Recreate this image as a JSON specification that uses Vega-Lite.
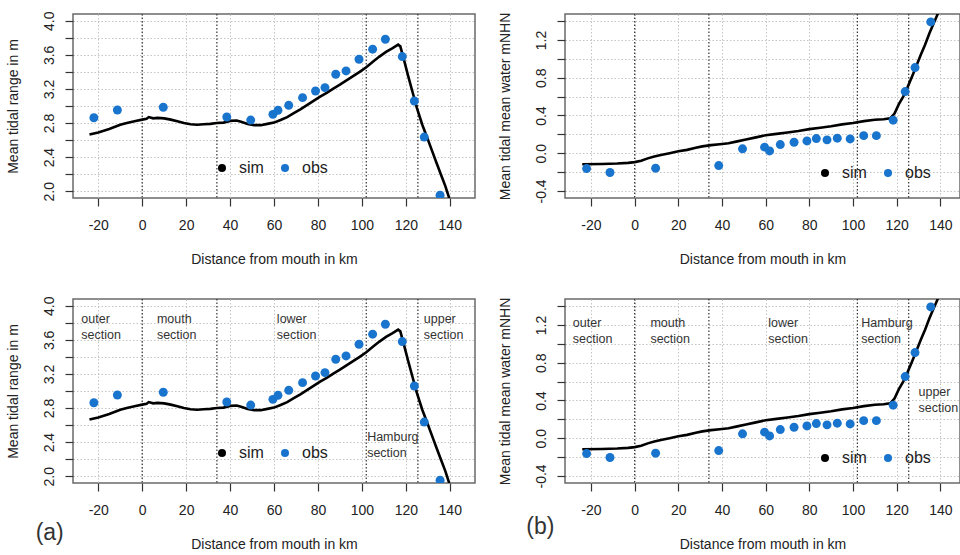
{
  "$schema": "https://vega.github.io/schema/vega-lite/v6.json",
  "padding": {"top": 10, "left": 5, "right": 0, "bottom": 0},
  "background": "white",
  "config": {
    "font": "Liberation Sans",
    "view": {"stroke": "#6a6a6a", "strokeWidth": 1.5},
    "axis": {
      "domain": false,
      "grid": true,
      "gridColor": "#c4c4c4",
      "gridDash": [1.5, 2],
      "gridWidth": 1,
      "ticks": true,
      "tickSize": 8,
      "tickColor": "#333333",
      "tickWidth": 1.2,
      "labelFontSize": 14,
      "labelColor": "#222222",
      "labelOverlap": false,
      "titleFontSize": 14,
      "titleFontWeight": "normal",
      "titleColor": "#222222",
      "labelPadding": 9
    },
    "axisX": {"labelPadding": 12},
    "legend": {
      "orient": "none",
      "direction": "horizontal",
      "title": null,
      "labelFontSize": 16,
      "labelColor": "#222222",
      "symbolType": "circle",
      "symbolSize": 65,
      "symbolStrokeWidth": 0,
      "labelOffset": 9,
      "columnPadding": 13,
      "padding": 0
    },
    "text": {"font": "Liberation Sans"}
  },
  "datasets": {
    "tide": [
      {"var": "range", "series": "sim", "km": -24, "value": 2.665},
      {"var": "range", "series": "sim", "km": -20, "value": 2.69},
      {"var": "range", "series": "sim", "km": -15, "value": 2.73},
      {"var": "range", "series": "sim", "km": -10, "value": 2.78},
      {"var": "range", "series": "sim", "km": -7, "value": 2.8},
      {"var": "range", "series": "sim", "km": -3, "value": 2.825},
      {"var": "range", "series": "sim", "km": 0, "value": 2.84},
      {"var": "range", "series": "sim", "km": 2, "value": 2.85},
      {"var": "range", "series": "sim", "km": 3, "value": 2.87},
      {"var": "range", "series": "sim", "km": 5, "value": 2.855},
      {"var": "range", "series": "sim", "km": 7, "value": 2.86},
      {"var": "range", "series": "sim", "km": 10, "value": 2.855},
      {"var": "range", "series": "sim", "km": 13, "value": 2.84},
      {"var": "range", "series": "sim", "km": 16, "value": 2.82},
      {"var": "range", "series": "sim", "km": 19, "value": 2.8},
      {"var": "range", "series": "sim", "km": 22, "value": 2.785},
      {"var": "range", "series": "sim", "km": 25, "value": 2.78},
      {"var": "range", "series": "sim", "km": 28, "value": 2.785},
      {"var": "range", "series": "sim", "km": 31, "value": 2.79},
      {"var": "range", "series": "sim", "km": 34, "value": 2.8},
      {"var": "range", "series": "sim", "km": 37, "value": 2.805},
      {"var": "range", "series": "sim", "km": 40, "value": 2.825},
      {"var": "range", "series": "sim", "km": 43, "value": 2.83},
      {"var": "range", "series": "sim", "km": 45, "value": 2.815},
      {"var": "range", "series": "sim", "km": 48, "value": 2.79},
      {"var": "range", "series": "sim", "km": 51, "value": 2.775},
      {"var": "range", "series": "sim", "km": 54, "value": 2.775},
      {"var": "range", "series": "sim", "km": 57, "value": 2.79},
      {"var": "range", "series": "sim", "km": 60, "value": 2.805},
      {"var": "range", "series": "sim", "km": 63, "value": 2.835},
      {"var": "range", "series": "sim", "km": 66, "value": 2.87},
      {"var": "range", "series": "sim", "km": 69, "value": 2.915},
      {"var": "range", "series": "sim", "km": 72, "value": 2.96},
      {"var": "range", "series": "sim", "km": 75, "value": 3.01},
      {"var": "range", "series": "sim", "km": 78, "value": 3.06},
      {"var": "range", "series": "sim", "km": 81, "value": 3.11},
      {"var": "range", "series": "sim", "km": 84, "value": 3.155},
      {"var": "range", "series": "sim", "km": 87, "value": 3.205},
      {"var": "range", "series": "sim", "km": 90, "value": 3.25},
      {"var": "range", "series": "sim", "km": 93, "value": 3.3},
      {"var": "range", "series": "sim", "km": 96, "value": 3.35},
      {"var": "range", "series": "sim", "km": 99, "value": 3.4},
      {"var": "range", "series": "sim", "km": 102, "value": 3.455},
      {"var": "range", "series": "sim", "km": 105, "value": 3.52},
      {"var": "range", "series": "sim", "km": 108, "value": 3.58},
      {"var": "range", "series": "sim", "km": 111, "value": 3.635},
      {"var": "range", "series": "sim", "km": 114, "value": 3.68},
      {"var": "range", "series": "sim", "km": 116.5, "value": 3.72},
      {"var": "range", "series": "sim", "km": 117.5, "value": 3.7},
      {"var": "range", "series": "sim", "km": 119, "value": 3.56},
      {"var": "range", "series": "sim", "km": 121, "value": 3.36},
      {"var": "range", "series": "sim", "km": 123, "value": 3.17},
      {"var": "range", "series": "sim", "km": 125, "value": 2.98},
      {"var": "range", "series": "sim", "km": 127.5, "value": 2.78},
      {"var": "range", "series": "sim", "km": 130, "value": 2.61},
      {"var": "range", "series": "sim", "km": 132, "value": 2.47},
      {"var": "range", "series": "sim", "km": 134, "value": 2.33},
      {"var": "range", "series": "sim", "km": 136.5, "value": 2.16},
      {"var": "range", "series": "sim", "km": 138, "value": 2.06},
      {"var": "range", "series": "sim", "km": 140, "value": 1.9},
      {"var": "range", "series": "obs", "km": -22, "value": 2.862},
      {"var": "range", "series": "obs", "km": -11.3, "value": 2.953},
      {"var": "range", "series": "obs", "km": 9.6, "value": 2.985},
      {"var": "range", "series": "obs", "km": 38.5, "value": 2.871},
      {"var": "range", "series": "obs", "km": 49.4, "value": 2.835},
      {"var": "range", "series": "obs", "km": 59.5, "value": 2.902},
      {"var": "range", "series": "obs", "km": 61.8, "value": 2.949},
      {"var": "range", "series": "obs", "km": 66.7, "value": 3.008},
      {"var": "range", "series": "obs", "km": 73, "value": 3.098},
      {"var": "range", "series": "obs", "km": 78.9, "value": 3.176},
      {"var": "range", "series": "obs", "km": 83.2, "value": 3.216},
      {"var": "range", "series": "obs", "km": 88.1, "value": 3.373},
      {"var": "range", "series": "obs", "km": 92.8, "value": 3.412},
      {"var": "range", "series": "obs", "km": 98.7, "value": 3.549},
      {"var": "range", "series": "obs", "km": 104.9, "value": 3.667},
      {"var": "range", "series": "obs", "km": 110.7, "value": 3.784},
      {"var": "range", "series": "obs", "km": 118.4, "value": 3.58},
      {"var": "range", "series": "obs", "km": 123.9, "value": 3.059},
      {"var": "range", "series": "obs", "km": 128.4, "value": 2.635},
      {"var": "range", "series": "obs", "km": 135.6, "value": 1.953},
      {"var": "mean", "series": "sim", "km": -24, "value": -0.118},
      {"var": "mean", "series": "sim", "km": -15, "value": -0.115},
      {"var": "mean", "series": "sim", "km": -8, "value": -0.11},
      {"var": "mean", "series": "sim", "km": -3, "value": -0.103},
      {"var": "mean", "series": "sim", "km": 0, "value": -0.095},
      {"var": "mean", "series": "sim", "km": 3, "value": -0.08},
      {"var": "mean", "series": "sim", "km": 6, "value": -0.055},
      {"var": "mean", "series": "sim", "km": 9, "value": -0.035},
      {"var": "mean", "series": "sim", "km": 12, "value": -0.02},
      {"var": "mean", "series": "sim", "km": 16, "value": 0.0},
      {"var": "mean", "series": "sim", "km": 20, "value": 0.02},
      {"var": "mean", "series": "sim", "km": 24, "value": 0.035},
      {"var": "mean", "series": "sim", "km": 28, "value": 0.058},
      {"var": "mean", "series": "sim", "km": 31, "value": 0.072},
      {"var": "mean", "series": "sim", "km": 35, "value": 0.085},
      {"var": "mean", "series": "sim", "km": 39, "value": 0.095},
      {"var": "mean", "series": "sim", "km": 43, "value": 0.105},
      {"var": "mean", "series": "sim", "km": 47, "value": 0.125},
      {"var": "mean", "series": "sim", "km": 51, "value": 0.145},
      {"var": "mean", "series": "sim", "km": 55, "value": 0.165},
      {"var": "mean", "series": "sim", "km": 60, "value": 0.19},
      {"var": "mean", "series": "sim", "km": 65, "value": 0.205},
      {"var": "mean", "series": "sim", "km": 70, "value": 0.22},
      {"var": "mean", "series": "sim", "km": 75, "value": 0.235},
      {"var": "mean", "series": "sim", "km": 80, "value": 0.255},
      {"var": "mean", "series": "sim", "km": 85, "value": 0.27},
      {"var": "mean", "series": "sim", "km": 90, "value": 0.285},
      {"var": "mean", "series": "sim", "km": 95, "value": 0.305},
      {"var": "mean", "series": "sim", "km": 100, "value": 0.32},
      {"var": "mean", "series": "sim", "km": 105, "value": 0.34},
      {"var": "mean", "series": "sim", "km": 110, "value": 0.355},
      {"var": "mean", "series": "sim", "km": 114, "value": 0.36},
      {"var": "mean", "series": "sim", "km": 117, "value": 0.37},
      {"var": "mean", "series": "sim", "km": 119, "value": 0.42},
      {"var": "mean", "series": "sim", "km": 121, "value": 0.52},
      {"var": "mean", "series": "sim", "km": 123, "value": 0.6},
      {"var": "mean", "series": "sim", "km": 125, "value": 0.7},
      {"var": "mean", "series": "sim", "km": 127, "value": 0.81},
      {"var": "mean", "series": "sim", "km": 129, "value": 0.925},
      {"var": "mean", "series": "sim", "km": 131, "value": 1.04},
      {"var": "mean", "series": "sim", "km": 133, "value": 1.15},
      {"var": "mean", "series": "sim", "km": 135, "value": 1.27},
      {"var": "mean", "series": "sim", "km": 137, "value": 1.38},
      {"var": "mean", "series": "sim", "km": 138.5, "value": 1.46},
      {"var": "mean", "series": "sim", "km": 140, "value": 1.54},
      {"var": "mean", "series": "obs", "km": -22, "value": -0.163},
      {"var": "mean", "series": "obs", "km": -11.3, "value": -0.205},
      {"var": "mean", "series": "obs", "km": 9.6, "value": -0.159},
      {"var": "mean", "series": "obs", "km": 38.5, "value": -0.131},
      {"var": "mean", "series": "obs", "km": 49.4, "value": 0.046},
      {"var": "mean", "series": "obs", "km": 59.5, "value": 0.064},
      {"var": "mean", "series": "obs", "km": 61.8, "value": 0.024},
      {"var": "mean", "series": "obs", "km": 66.7, "value": 0.091},
      {"var": "mean", "series": "obs", "km": 73, "value": 0.116},
      {"var": "mean", "series": "obs", "km": 78.9, "value": 0.13},
      {"var": "mean", "series": "obs", "km": 83.2, "value": 0.155},
      {"var": "mean", "series": "obs", "km": 88.1, "value": 0.141},
      {"var": "mean", "series": "obs", "km": 92.8, "value": 0.159},
      {"var": "mean", "series": "obs", "km": 98.7, "value": 0.151},
      {"var": "mean", "series": "obs", "km": 104.9, "value": 0.186},
      {"var": "mean", "series": "obs", "km": 110.7, "value": 0.186},
      {"var": "mean", "series": "obs", "km": 118.4, "value": 0.35},
      {"var": "mean", "series": "obs", "km": 123.9, "value": 0.653},
      {"var": "mean", "series": "obs", "km": 128.4, "value": 0.907},
      {"var": "mean", "series": "obs", "km": 135.6, "value": 1.391}
    ],
    "bounds": [{"km": 0}, {"km": 34}, {"km": 102}, {"km": 125.5}],
    "labels": [
      {"panel": "a", "label": "outer\nsection", "km": -27.7, "value": 3.798},
      {"panel": "a", "label": "mouth\nsection", "km": 6.7, "value": 3.798},
      {"panel": "a", "label": "lower\nsection", "km": 61.3, "value": 3.798},
      {"panel": "a", "label": "upper\nsection", "km": 128.2, "value": 3.798},
      {"panel": "a", "label": "Hamburg\nsection", "km": 102.4, "value": 2.41},
      {"panel": "a", "label": "(a)", "km": -48.5, "value": 1.25},
      {"panel": "b", "label": "outer\nsection", "km": -28.3, "value": 1.177},
      {"panel": "b", "label": "mouth\nsection", "km": 7.2, "value": 1.177},
      {"panel": "b", "label": "lower\nsection", "km": 61.2, "value": 1.177},
      {"panel": "b", "label": "Hamburg\nsection", "km": 103.8, "value": 1.177},
      {"panel": "b", "label": "upper\nsection", "km": 130.0, "value": 0.451},
      {"panel": "b", "label": "(b)", "km": -49.6, "value": -1.015}
    ]
  },
  "spacing": 28,
  "resolve": {"scale": {"x": "independent", "y": "independent", "color": "independent"}, "legend": {"color": "independent"}},
  "vconcat": [
    {
      "spacing": 21,
      "resolve": {"scale": {"x": "independent", "y": "independent", "color": "independent"}, "legend": {"color": "independent"}},
      "hconcat": [
        {
          "width": 402, "height": 184,
          "encoding": {"x": {"field": "km", "type": "quantitative", "scale": {"domain": [-31.5, 151.5], "nice": false, "zero": false}, "axis": {"title": "Distance from mouth in km", "values": [-20, 0, 20, 40, 60, 80, 100, 120, 140], "labelExpr": "replace(format(datum.value, 'd'), '\u2212', '-')", "titlePadding": 20}}},
          "layer": [
            {"data": {"name": "bounds"}, "mark": {"type": "rule", "color": "#333333", "strokeDash": [1.5, 2], "strokeWidth": 1.2}},
            {"data": {"name": "tide"}, "transform": [{"filter": "datum.var == 'range' && datum.series == 'sim'"}],
             "mark": {"type": "line", "color": "black", "strokeWidth": 2.6, "clip": true},
             "encoding": {"y": {"field": "value", "type": "quantitative", "scale": {"domain": [1.92, 4.08], "nice": false, "zero": false}, "axis": {"title": "Mean tidal range in m", "values": [2, 2.2, 2.4, 2.6, 2.8, 3, 3.2, 3.4, 3.6, 3.8, 4], "labelExpr": "abs(round(datum.value*10)) % 4 == 0 ? replace(format(datum.value, '.1f'), '\u2212', '-') : ''", "labelAngle": -90, "labelOverlap": false, "titlePadding": 22}}}},
            {"data": {"name": "tide"}, "transform": [{"filter": "datum.var == 'range' && datum.series == 'obs'"}],
             "mark": {"type": "point", "filled": true, "size": 80, "opacity": 1, "clip": true},
             "encoding": {"y": {"field": "value", "type": "quantitative", "scale": {"domain": [1.92, 4.08], "nice": false, "zero": false}, "axis": {"title": "Mean tidal range in m", "values": [2, 2.2, 2.4, 2.6, 2.8, 3, 3.2, 3.4, 3.6, 3.8, 4], "labelExpr": "abs(round(datum.value*10)) % 4 == 0 ? replace(format(datum.value, '.1f'), '\u2212', '-') : ''", "labelAngle": -90, "labelOverlap": false, "titlePadding": 22}},
                          "color": {"field": "series", "type": "nominal", "scale": {"domain": ["sim", "obs"], "range": ["#000000", "#1874CD"]}, "legend": {"legendX": 141, "legendY": 146}}}}
          ]
        },
        {
          "width": 395, "height": 184,
          "encoding": {"x": {"field": "km", "type": "quantitative", "scale": {"domain": [-31.9, 149], "nice": false, "zero": false}, "axis": {"title": "Distance from mouth in km", "values": [-20, 0, 20, 40, 60, 80, 100, 120, 140], "labelExpr": "replace(format(datum.value, 'd'), '\u2212', '-')", "titlePadding": 20}}},
          "layer": [
            {"data": {"name": "bounds"}, "mark": {"type": "rule", "color": "#333333", "strokeDash": [1.5, 2], "strokeWidth": 1.2}},
            {"data": {"name": "tide"}, "transform": [{"filter": "datum.var == 'mean' && datum.series == 'sim'"}],
             "mark": {"type": "line", "color": "black", "strokeWidth": 2.6, "clip": true},
             "encoding": {"y": {"field": "value", "type": "quantitative", "scale": {"domain": [-0.475, 1.475], "nice": false, "zero": false}, "axis": {"title": "Mean tidal mean water mNHN", "values": [-0.4, -0.2, 0, 0.2, 0.4, 0.6, 0.8, 1, 1.2, 1.4], "labelExpr": "abs(round(datum.value*10)) % 4 == 0 ? replace(format(datum.value, '.1f'), '\u2212', '-') : ''", "labelAngle": -90, "labelOverlap": false, "titlePadding": 22}}}},
            {"data": {"name": "tide"}, "transform": [{"filter": "datum.var == 'mean' && datum.series == 'obs'"}],
             "mark": {"type": "point", "filled": true, "size": 80, "opacity": 1, "clip": true},
             "encoding": {"y": {"field": "value", "type": "quantitative", "scale": {"domain": [-0.475, 1.475], "nice": false, "zero": false}, "axis": {"title": "Mean tidal mean water mNHN", "values": [-0.4, -0.2, 0, 0.2, 0.4, 0.6, 0.8, 1, 1.2, 1.4], "labelExpr": "abs(round(datum.value*10)) % 4 == 0 ? replace(format(datum.value, '.1f'), '\u2212', '-') : ''", "labelAngle": -90, "labelOverlap": false, "titlePadding": 22}},
                          "color": {"field": "series", "type": "nominal", "scale": {"domain": ["sim", "obs"], "range": ["#000000", "#1874CD"]}, "legend": {"legendX": 252, "legendY": 151}}}}
          ]
        }
      ]
    },
    {
      "spacing": 21,
      "resolve": {"scale": {"x": "independent", "y": "independent", "color": "independent"}, "legend": {"color": "independent"}},
      "hconcat": [
        {
          "width": 402, "height": 184,
          "encoding": {"x": {"field": "km", "type": "quantitative", "scale": {"domain": [-31.5, 151.5], "nice": false, "zero": false}, "axis": {"title": "Distance from mouth in km", "values": [-20, 0, 20, 40, 60, 80, 100, 120, 140], "labelExpr": "replace(format(datum.value, 'd'), '\u2212', '-')", "titlePadding": 20}}},
          "layer": [
            {"data": {"name": "bounds"}, "mark": {"type": "rule", "color": "#333333", "strokeDash": [1.5, 2], "strokeWidth": 1.2}},
            {"data": {"name": "tide"}, "transform": [{"filter": "datum.var == 'range' && datum.series == 'sim'"}],
             "mark": {"type": "line", "color": "black", "strokeWidth": 2.6, "clip": true},
             "encoding": {"y": {"field": "value", "type": "quantitative", "scale": {"domain": [1.92, 4.08], "nice": false, "zero": false}, "axis": {"title": "Mean tidal range in m", "values": [2, 2.2, 2.4, 2.6, 2.8, 3, 3.2, 3.4, 3.6, 3.8, 4], "labelExpr": "abs(round(datum.value*10)) % 4 == 0 ? replace(format(datum.value, '.1f'), '\u2212', '-') : ''", "labelAngle": -90, "labelOverlap": false, "titlePadding": 22}}}},
            {"data": {"name": "tide"}, "transform": [{"filter": "datum.var == 'range' && datum.series == 'obs'"}],
             "mark": {"type": "point", "filled": true, "size": 80, "opacity": 1, "clip": true},
             "encoding": {"y": {"field": "value", "type": "quantitative", "scale": {"domain": [1.92, 4.08], "nice": false, "zero": false}, "axis": {"title": "Mean tidal range in m", "values": [2, 2.2, 2.4, 2.6, 2.8, 3, 3.2, 3.4, 3.6, 3.8, 4], "labelExpr": "abs(round(datum.value*10)) % 4 == 0 ? replace(format(datum.value, '.1f'), '\u2212', '-') : ''", "labelAngle": -90, "labelOverlap": false, "titlePadding": 22}},
                          "color": {"field": "series", "type": "nominal", "scale": {"domain": ["sim", "obs"], "range": ["#000000", "#1874CD"]}, "legend": {"legendX": 141, "legendY": 146}}}},
            {"data": {"name": "labels"}, "transform": [{"filter": "datum.panel == 'a'"}],
             "mark": {"type": "text", "align": "left", "baseline": "alphabetic", "color": "#333333", "lineBreak": "\n", "lineHeight": 16},
             "encoding": {"y": {"field": "value", "type": "quantitative", "scale": {"domain": [1.92, 4.08], "nice": false, "zero": false}, "axis": {"title": "Mean tidal range in m", "values": [2, 2.2, 2.4, 2.6, 2.8, 3, 3.2, 3.4, 3.6, 3.8, 4], "labelExpr": "abs(round(datum.value*10)) % 4 == 0 ? replace(format(datum.value, '.1f'), '\u2212', '-') : ''", "labelAngle": -90, "labelOverlap": false, "titlePadding": 22}}, "text": {"field": "label"},
                          "size": {"condition": {"test": "datum.label == '(a)'", "value": 23}, "value": 12.5}}}
          ]
        },
        {
          "width": 395, "height": 184,
          "encoding": {"x": {"field": "km", "type": "quantitative", "scale": {"domain": [-31.9, 149], "nice": false, "zero": false}, "axis": {"title": "Distance from mouth in km", "values": [-20, 0, 20, 40, 60, 80, 100, 120, 140], "labelExpr": "replace(format(datum.value, 'd'), '\u2212', '-')", "titlePadding": 20}}},
          "layer": [
            {"data": {"name": "bounds"}, "mark": {"type": "rule", "color": "#333333", "strokeDash": [1.5, 2], "strokeWidth": 1.2}},
            {"data": {"name": "tide"}, "transform": [{"filter": "datum.var == 'mean' && datum.series == 'sim'"}],
             "mark": {"type": "line", "color": "black", "strokeWidth": 2.6, "clip": true},
             "encoding": {"y": {"field": "value", "type": "quantitative", "scale": {"domain": [-0.475, 1.475], "nice": false, "zero": false}, "axis": {"title": "Mean tidal mean water mNHN", "values": [-0.4, -0.2, 0, 0.2, 0.4, 0.6, 0.8, 1, 1.2, 1.4], "labelExpr": "abs(round(datum.value*10)) % 4 == 0 ? replace(format(datum.value, '.1f'), '\u2212', '-') : ''", "labelAngle": -90, "labelOverlap": false, "titlePadding": 22}}}},
            {"data": {"name": "tide"}, "transform": [{"filter": "datum.var == 'mean' && datum.series == 'obs'"}],
             "mark": {"type": "point", "filled": true, "size": 80, "opacity": 1, "clip": true},
             "encoding": {"y": {"field": "value", "type": "quantitative", "scale": {"domain": [-0.475, 1.475], "nice": false, "zero": false}, "axis": {"title": "Mean tidal mean water mNHN", "values": [-0.4, -0.2, 0, 0.2, 0.4, 0.6, 0.8, 1, 1.2, 1.4], "labelExpr": "abs(round(datum.value*10)) % 4 == 0 ? replace(format(datum.value, '.1f'), '\u2212', '-') : ''", "labelAngle": -90, "labelOverlap": false, "titlePadding": 22}},
                          "color": {"field": "series", "type": "nominal", "scale": {"domain": ["sim", "obs"], "range": ["#000000", "#1874CD"]}, "legend": {"legendX": 252, "legendY": 151}}}},
            {"data": {"name": "labels"}, "transform": [{"filter": "datum.panel == 'b'"}],
             "mark": {"type": "text", "align": "left", "baseline": "alphabetic", "color": "#333333", "lineBreak": "\n", "lineHeight": 16},
             "encoding": {"y": {"field": "value", "type": "quantitative", "scale": {"domain": [-0.475, 1.475], "nice": false, "zero": false}, "axis": {"title": "Mean tidal mean water mNHN", "values": [-0.4, -0.2, 0, 0.2, 0.4, 0.6, 0.8, 1, 1.2, 1.4], "labelExpr": "abs(round(datum.value*10)) % 4 == 0 ? replace(format(datum.value, '.1f'), '\u2212', '-') : ''", "labelAngle": -90, "labelOverlap": false, "titlePadding": 22}}, "text": {"field": "label"},
                          "size": {"condition": {"test": "datum.label == '(b)'", "value": 23}, "value": 12.5}}}
          ]
        }
      ]
    }
  ]
}
